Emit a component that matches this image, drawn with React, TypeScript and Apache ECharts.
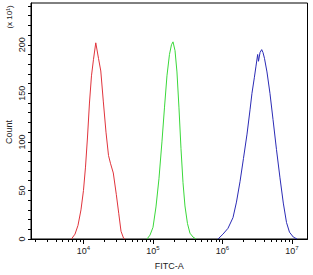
import React, { useEffect, useRef } from "react";
import * as echarts from "echarts";

// FITC-A values are given as log10 exponents (x axis is logarithmic)
const redLogFitc = [3.827, 3.878, 3.921, 3.964, 4.0, 4.029, 4.058, 4.086, 4.115, 4.144, 4.177, 4.216, 4.249, 4.285, 4.324, 4.36, 4.388, 4.429, 4.472, 4.508, 4.54, 4.576, 4.597];
const redCount = [0, 5, 14, 30, 50, 74, 105, 140, 168, 185, 202, 186, 173, 142, 110, 86, 78, 68, 46, 26, 8, 1, 0];

const greenLogFitc = [4.914, 4.957, 5.0, 5.043, 5.086, 5.129, 5.165, 5.201, 5.237, 5.266, 5.288, 5.317, 5.345, 5.374, 5.403, 5.432, 5.46, 5.496, 5.532, 5.576, 5.619];
const greenCount = [0, 4, 12, 33, 62, 100, 135, 168, 190, 200, 203, 194, 172, 135, 93, 58, 34, 16, 6, 2, 0];

const blueLogFitc = [5.935, 6.007, 6.079, 6.151, 6.201, 6.252, 6.302, 6.353, 6.396, 6.424, 6.458, 6.482, 6.506, 6.518, 6.54, 6.564, 6.583, 6.604, 6.64, 6.683, 6.727, 6.777, 6.827, 6.875, 6.921, 6.964, 7.019, 7.072];
const blueCount = [0, 5, 11, 22, 38, 59, 83, 108, 133, 150, 166, 178, 190, 183, 192, 195, 192, 186, 172, 150, 123, 92, 63, 37, 17, 7, 2, 0];

const decadeExponents = [4, 5, 6, 7];
const minorMultipliers = [1, 2, 3, 4, 5, 6, 7, 8, 9];
const yLabelValues = [0, 50, 100, 150, 200];

const X_MIN = 3.245;
const X_MAX = 7.223;
const Y_MAX = 243;

const pairs = (xs: number[], ys: number[]) => xs.map((x, i) => [x, ys[i]]);

export default function App() {
  const ref = useRef<HTMLDivElement>(null);
  useEffect(() => {
    if (!ref.current) return;
    const chart = echarts.init(ref.current, undefined, { renderer: "svg" });
    const minorTicks: number[] = [];
    for (let n = 3; n <= 7; n++) {
      for (const k of minorMultipliers) {
        const v = Math.log10(k * Math.pow(10, n));
        if (v >= X_MIN && v <= X_MAX) minorTicks.push(v);
      }
    }
    const yTicks: number[] = [];
    for (let v = 0; v <= 240; v += 10) yTicks.push(v);
    const font = "Liberation Sans, Arial, sans-serif";
    chart.setOption({
      animation: false,
      backgroundColor: "#fff",
      grid: {
        left: 31,
        top: 3,
        right: 5.5,
        bottom: 29,
        show: true,
        borderColor: "#000",
        borderWidth: 1,
      },
      xAxis: [
        {
          type: "value",
          min: X_MIN,
          max: X_MAX,
          position: "bottom",
          name: "FITC-A",
          nameLocation: "middle",
          nameGap: 22,
          nameTextStyle: { fontFamily: font, fontSize: 9, color: "#222" },
          axisLine: { show: true, lineStyle: { color: "#000", width: 1 } },
          axisTick: { show: true, length: 3, customValues: minorTicks, lineStyle: { color: "#000" } },
          axisLabel: {
            customValues: decadeExponents,
            margin: 6,
            formatter: (v: number) => `{b|10}{s|${Math.round(v)}}`,
            rich: {
              b: { fontFamily: font, fontSize: 9, color: "#222" },
              s: { fontFamily: font, fontSize: 6, color: "#222", padding: [0, 0, 6, 0] },
            },
          },
          splitLine: { show: false },
        },
        {
          type: "value",
          min: X_MIN,
          max: X_MAX,
          position: "bottom",
          offset: 0,
          axisLine: { show: false },
          axisTick: { show: true, length: 5, customValues: decadeExponents, lineStyle: { color: "#000" } },
          axisLabel: { show: false },
          splitLine: { show: false },
        },
      ],
      yAxis: {
        type: "value",
        min: 0,
        max: Y_MAX,
        axisLine: { show: true, lineStyle: { color: "#000", width: 1 } },
        axisTick: { show: true, length: 3, customValues: yTicks, lineStyle: { color: "#000" } },
        axisLabel: {
          customValues: yLabelValues,
          rotate: 90,
          margin: 5,
          fontFamily: font,
          fontSize: 9,
          color: "#222",
        },
        splitLine: { show: false },
      },
      graphic: [
        {
          type: "text",
          x: 9,
          y: 132,
          rotation: Math.PI / 2,
          style: { text: "Count", fontFamily: font, fontSize: 9, fill: "#222", align: "center", verticalAlign: "middle" },
        },
        {
          type: "text",
          x: 9,
          y: 17,
          rotation: Math.PI / 2,
          style: { text: "(x 10¹)", fontFamily: font, fontSize: 8, fill: "#222", align: "center", verticalAlign: "middle" },
        },
      ],
      series: [
        {
          type: "line",
          data: pairs(redLogFitc, redCount),
          showSymbol: false,
          lineStyle: { color: "#e0343c", width: 1 },
          itemStyle: { color: "#e0343c" },
        },
        {
          type: "line",
          data: pairs(greenLogFitc, greenCount),
          showSymbol: false,
          lineStyle: { color: "#3ad83a", width: 1 },
          itemStyle: { color: "#3ad83a" },
        },
        {
          type: "line",
          data: pairs(blueLogFitc, blueCount),
          showSymbol: false,
          lineStyle: { color: "#2b2bb5", width: 1 },
          itemStyle: { color: "#2b2bb5" },
        },
      ],
    });
    return () => chart.dispose();
  }, []);
  return <div ref={ref} style={{ position: "absolute", left: 0, top: 0, width: 313, height: 275 }} />;
}
